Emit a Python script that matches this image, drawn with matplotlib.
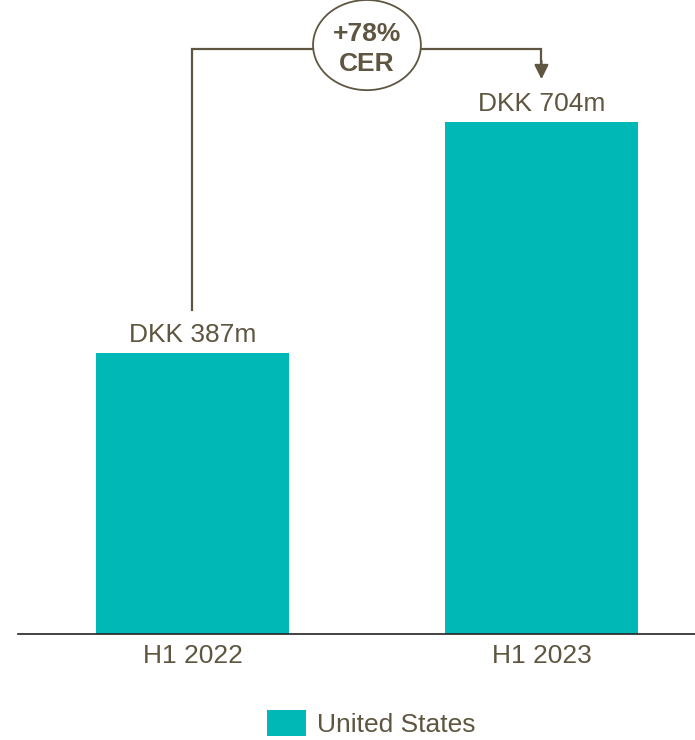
import matplotlib
matplotlib.use("Agg")
import matplotlib.pyplot as plt
from matplotlib.patches import Ellipse

categories = ["H1 2022", "H1 2023"]
values = [387, 704]
value_labels = ["DKK 387m", "DKK 704m"]
series_name = "United States"
growth_label = "+78%\nCER"

BAR = "#00B8B6"
TXT = "#5E5640"

plt.rcParams['font.family'] = ['Liberation Sans', 'DejaVu Sans']

fig = plt.figure(figsize=(6.95, 7.4), dpi=100)
ax = fig.add_axes([18/695, 1 - 634/740, 677/695, 634/740])

x = list(range(len(categories)))
bars = ax.bar(x, values, width=0.553, color=BAR, label=series_name, zorder=2)

ax.set_xlim(-0.5, 1.44)
ax.set_ylim(0, 872)
ax.set_xticks(x)
ax.set_xticklabels(categories, fontsize=19, color=TXT)
ax.tick_params(axis='x', length=0, pad=7.5)
ax.set_yticks([])
for s in ['top', 'right', 'left']:
    ax.spines[s].set_visible(False)
ax.spines['bottom'].set_color('#222222')
ax.spines['bottom'].set_linewidth(1.2)

for xi, v, lab in zip(x, values, value_labels):
    ax.annotate(lab, (xi, v), xytext=(0, 8), textcoords='offset points',
                ha='center', va='baseline', fontsize=19, color=TXT)

# growth bracket
top_y = 805
ax.plot([x[0], x[0], x[1], x[1]], [values[0] + 58, top_y, top_y, values[1] + 80],
        color=TXT, lw=1.6, solid_joinstyle='miter', zorder=3, clip_on=False)
ax.annotate("", xy=(x[1], values[1] + 59), xytext=(x[1], values[1] + 84),
            arrowprops=dict(arrowstyle='-|>,head_width=0.42,head_length=0.85',
                            color=TXT, lw=1.6, shrinkA=0, shrinkB=0),
            annotation_clip=False)
ell = Ellipse((0.5, 810), width=0.309, height=124, facecolor='white',
              edgecolor=TXT, lw=1.3, zorder=4, clip_on=False)
ax.add_patch(ell)
ax.text(0.5, 805, growth_label, ha='center', va='center', fontsize=19,
        fontweight='bold', color=TXT, zorder=5, linespacing=1.3)

fig.legend(handles=[bars], labels=[series_name], loc='center',
           bbox_to_anchor=(371.5/695, 1 - 723.5/740), frameon=False,
           fontsize=19, handlelength=1.48, handleheight=1.15,
           handletextpad=0.42, labelcolor=TXT, borderpad=0)

fig.savefig("out.png", dpi=100)
